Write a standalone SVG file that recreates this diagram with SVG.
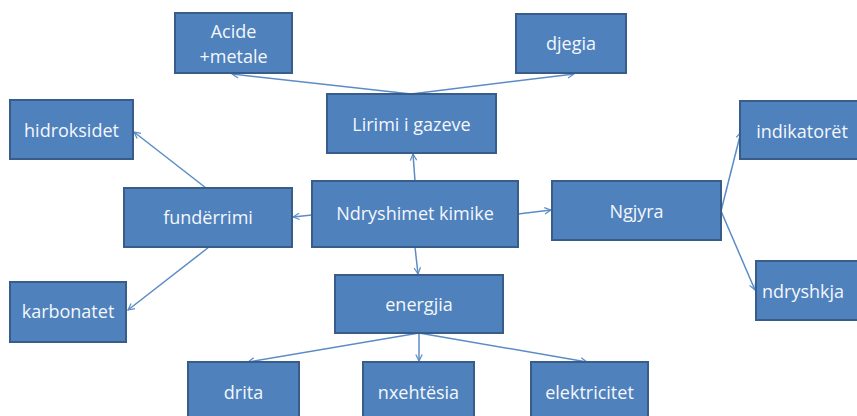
<svg xmlns="http://www.w3.org/2000/svg" width="857" height="416" viewBox="0 0 857 416">
  <style>
    .box { fill: #4f81bd; stroke: #385d8a; stroke-width: 2; }
    .lbl { fill: #f4f7fb; font-family: "Open Sans", "Liberation Sans", sans-serif; font-size: 18px; text-anchor: middle; dominant-baseline: central; }
    .con { stroke: #5b8cc6; stroke-width: 1.5; fill: none; marker-end: url(#arr); }
  </style>
  <defs>
    <marker id="arr" viewBox="0 0 10 10" refX="9" refY="5" markerWidth="8" markerHeight="8" markerUnits="userSpaceOnUse" orient="auto">
      <path d="M1,1 L9,5 L1,9" fill="none" stroke="#5b8cc6" stroke-width="1.5"/>
    </marker>
  </defs>
  <rect width="857" height="416" fill="#ffffff"/>

  <g id="connectors">
    <path class="con" d="M411,94 L232,74"/>
    <path class="con" d="M411,94 L574,74"/>
    <path class="con" d="M415,181 L413,154"/>
    <path class="con" d="M415,247 L418,274"/>
    <path class="con" d="M312,215 L293,217"/>
    <path class="con" d="M518,214 L551,210"/>
    <path class="con" d="M206,188 L134,132"/>
    <path class="con" d="M209,247 L128,310"/>
    <path class="con" d="M721,211 L741,132"/>
    <path class="con" d="M721,211 L755,290"/>
    <path class="con" d="M419,333 L248,362"/>
    <path class="con" d="M419,333 L419,361"/>
    <path class="con" d="M419,333 L587,362"/>
  </g>

  <g id="acide">
    <rect class="box" x="175" y="13" width="117" height="60"/>
    <text class="lbl" x="233.5" y="31">Acide</text>
    <text class="lbl" x="233.5" y="56">+metale</text>
  </g>
  <g id="djegia">
    <rect class="box" x="516" y="14" width="110" height="59"/>
    <text class="lbl" x="571" y="43">djegia</text>
  </g>
  <g id="lirimi">
    <rect class="box" x="327" y="94" width="169" height="59"/>
    <text class="lbl" x="411.5" y="124">Lirimi i gazeve</text>
  </g>
  <g id="hidroksidet">
    <rect class="box" x="10" y="100" width="123" height="59"/>
    <text class="lbl" x="71.5" y="130">hidroksidet</text>
  </g>
  <g id="funderrimi">
    <rect class="box" x="124" y="188" width="168" height="59"/>
    <text class="lbl" x="208" y="217">fundërrimi</text>
  </g>
  <g id="karbonatet">
    <rect class="box" x="10" y="282" width="116" height="60"/>
    <text class="lbl" x="68" y="311">karbonatet</text>
  </g>
  <g id="ndryshimet">
    <rect class="box" x="312" y="181" width="206" height="66"/>
    <text class="lbl" x="415" y="213">Ndryshimet kimike</text>
  </g>
  <g id="ngjyra">
    <rect class="box" x="552" y="181" width="169" height="59"/>
    <text class="lbl" x="636.5" y="211">Ngjyra</text>
  </g>
  <g id="indikatoret">
    <rect class="box" x="740" y="101" width="125" height="58"/>
    <text class="lbl" x="802" y="131">indikatorët</text>
  </g>
  <g id="ndryshkja">
    <rect class="box" x="756" y="261" width="110" height="59"/>
    <text class="lbl" x="803" y="291">ndryshkja</text>
  </g>
  <g id="energjia">
    <rect class="box" x="335" y="275" width="168" height="58"/>
    <text class="lbl" x="419" y="304">energjia</text>
  </g>
  <g id="drita">
    <rect class="box" x="188" y="362" width="111" height="60"/>
    <text class="lbl" x="243.5" y="392">drita</text>
  </g>
  <g id="nxehtesia">
    <rect class="box" x="363" y="362" width="111" height="60"/>
    <text class="lbl" x="418.5" y="392">nxehtësia</text>
  </g>
  <g id="elektricitet">
    <rect class="box" x="531" y="362" width="117" height="60"/>
    <text class="lbl" x="589.5" y="392">elektricitet</text>
  </g>
</svg>
